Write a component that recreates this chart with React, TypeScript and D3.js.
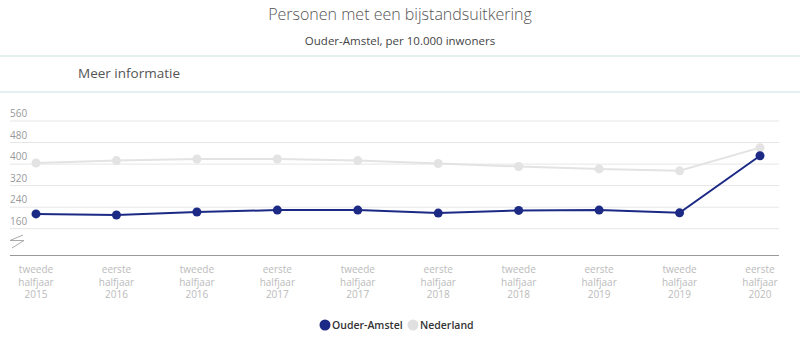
import * as d3 from "d3";
import { useEffect, useRef } from "react";

const periods = [
  ["tweede", "halfjaar", "2015"],
  ["eerste", "halfjaar", "2016"],
  ["tweede", "halfjaar", "2016"],
  ["eerste", "halfjaar", "2017"],
  ["tweede", "halfjaar", "2017"],
  ["eerste", "halfjaar", "2018"],
  ["tweede", "halfjaar", "2018"],
  ["eerste", "halfjaar", "2019"],
  ["tweede", "halfjaar", "2019"],
  ["eerste", "halfjaar", "2020"],
];
const ouderAmstel = [215, 211, 222, 229, 229, 218, 228, 229, 219, 431];
const nederland = [404, 413, 419, 419, 413, 402, 391, 382, 375, 461];
const yTicks = [160, 240, 320, 400, 480, 560];

const W = 800,
  H = 354;

const App = () => {
  const ref = useRef<SVGSVGElement>(null);

  useEffect(() => {
    const svg = d3.select(ref.current);
    svg.selectAll("*").remove();
    const font = "'Open Sans', sans-serif";

    svg
      .append("text")
      .attr("x", 400)
      .attr("y", 20)
      .attr("text-anchor", "middle")
      .attr("font-family", font)
      .attr("font-weight", 300)
      .attr("font-size", 16)
      .attr("fill", "#555")
      .text("Personen met een bijstandsuitkering");
    svg
      .append("text")
      .attr("x", 400)
      .attr("y", 45)
      .attr("text-anchor", "middle")
      .attr("font-family", font)
      .attr("font-size", 11.5)
      .attr("fill", "#444")
      .text("Ouder-Amstel, per 10.000 inwoners");
    [56, 92].forEach((y) =>
      svg
        .append("line")
        .attr("x1", 0)
        .attr("x2", W)
        .attr("y1", y)
        .attr("y2", y)
        .attr("stroke", "#e2f0f0")
        .attr("stroke-width", 2)
    );
    svg
      .append("text")
      .attr("x", 78)
      .attr("y", 78)
      .attr("font-family", font)
      .attr("font-size", 13.5)
      .attr("fill", "#555")
      .text("Meer informatie");

    const x = d3
      .scalePoint<number>()
      .domain(d3.range(periods.length))
      .range([36, 760]);
    const y = d3.scaleLinear().domain([62.3, 560]).range([255, 121]);

    // grid + labels
    const g = svg.append("g");
    yTicks.forEach((t) => {
      g.append("line")
        .attr("x1", 10)
        .attr("x2", 779)
        .attr("y1", y(t))
        .attr("y2", y(t))
        .attr("stroke", "#e6e6e6")
        .attr("stroke-width", 1);
      g.append("text")
        .attr("x", 10)
        .attr("y", y(t) - 4)
        .attr("font-family", font)
        .attr("font-size", 10)
        .attr("fill", "#999")
        .text(t);
    });
    // axis break symbol
    g.append("path")
      .attr("d", "M23,235 L10,240.5 L24,240.5 L12,248")
      .attr("fill", "none")
      .attr("stroke", "#aaa")
      .attr("stroke-width", 1);
    g.append("line")
      .attr("x1", 10)
      .attr("x2", 779)
      .attr("y1", 255.5)
      .attr("y2", 255.5)
      .attr("stroke", "#999")
      .attr("stroke-width", 1);

    // x labels
    periods.forEach((p, i) => {
      const t = g
        .append("text")
        .attr("text-anchor", "middle")
        .attr("font-family", font)
        .attr("font-size", 10)
        .attr("fill", "#bbb");
      p.forEach((s, j) =>
        t
          .append("tspan")
          .attr("x", x(i)!)
          .attr("y", 273 + j * 12.5)
          .text(s)
      );
    });

    const line = d3
      .line<number>()
      .x((_, i) => x(i)!)
      .y((d) => y(d));

    const series = [
      { values: nederland, color: "#e3e3e3" },
      { values: ouderAmstel, color: "#1c2a85" },
    ];
    series.forEach((s) => {
      g.append("path")
        .datum(s.values)
        .attr("d", line)
        .attr("fill", "none")
        .attr("stroke", s.color)
        .attr("stroke-width", 2);
      g.selectAll(null)
        .data(s.values)
        .join("circle")
        .attr("cx", (_, i) => x(i)!)
        .attr("cy", (d) => y(d))
        .attr("r", 4.5)
        .attr("fill", s.color);
    });

    // legend
    const legend = [
      { name: "Ouder-Amstel", color: "#1c2a85", x: 325 },
      { name: "Nederland", color: "#e0e0e0", x: 413 },
    ];
    legend.forEach((l) => {
      svg
        .append("circle")
        .attr("cx", l.x)
        .attr("cy", 325)
        .attr("r", 5.5)
        .attr("fill", l.color);
      svg
        .append("text")
        .attr("x", l.x + 7)
        .attr("y", 329)
        .attr("font-family", font)
        .attr("font-weight", 600)
        .attr("font-size", 10.5)
        .attr("fill", "#333")
        .text(l.name);
    });
  }, []);

  return (
    <svg
      ref={ref}
      width={W}
      height={H}
      style={{ position: "absolute", left: 0, top: 0, background: "#fff" }}
    />
  );
};

export default App;
